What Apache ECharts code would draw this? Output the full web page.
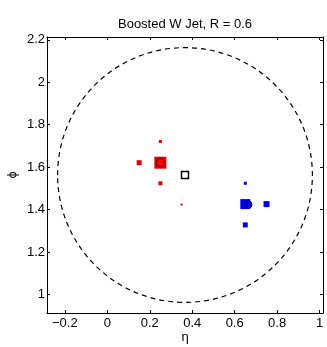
<!DOCTYPE html>
<html>
<head>
<meta charset="utf-8">
<style>
  html, body { margin: 0; padding: 0; background: #ffffff; }
  #chart { width: 327px; height: 347px; }
</style>
<script src="https://cdn.jsdelivr.net/npm/echarts@6/dist/echarts.min.js"></script>
</head>
<body>
<div id="chart"></div>
<script>
// Tick positions
const etaTicks = [-0.2, 0, 0.2, 0.4, 0.6, 0.8, 1];
const phiTicks = [1, 1.2, 1.4, 1.6, 1.8, 2, 2.2];

// Jet axis and cone radius
const jetAxis = [0.366, 1.563];
const jetR = 0.6;

// Subjet 1 (red) constituent cells: eta, phi, relative pT
const redEta = [0.25, 0.15, 0.25, 0.25, 0.35];
const redPhi = [1.621, 1.621, 1.721, 1.524, 1.424];
const redPt  = [60, 25, 15, 20, 10];

// Subjet 2 (blue) constituent cells
const blueEta = [0.65, 0.75, 0.65, 0.65];
const bluePhi = [1.426, 1.426, 1.524, 1.328];
const bluePt  = [50, 30, 15, 25];

// Subjet axes
const redAxis = [0.249, 1.621];
const blueAxis = [0.665, 1.424];

const half = 0.65;
const etaMin = jetAxis[0] - half, etaMax = jetAxis[0] + half;
const phiMin = jetAxis[1] - half, phiMax = jetAxis[1] + half;

const FONT = 'Liberation Sans, Arial, Helvetica, sans-serif';
const fmt = v => (v < 0 ? '\u2212' + String(Math.abs(+v.toFixed(2))) : String(+(+v).toFixed(2)));

function cells(eta, phi, pt) {
  return eta.map((e, i) => [e, phi[i], pt[i]]);
}

const chart = echarts.init(document.getElementById('chart'), null, { renderer: 'canvas' });

const axisLine = { show: true, onZero: false, lineStyle: { color: '#000', width: 1 } };
const tickStyle = (vals) => ({ show: true, inside: true, length: 3, customValues: vals, lineStyle: { color: '#000', width: 1 } });

chart.setOption({
  animation: false,
  backgroundColor: '#ffffff',
  grid: { left: 47, top: 37, width: 276, height: 276, containLabel: false, outerBoundsMode: 'none' },
  xAxis: [
    {
      type: 'value', min: etaMin, max: etaMax, position: 'bottom',
      axisLine: axisLine, axisTick: tickStyle(etaTicks), splitLine: { show: false },
      axisLabel: { customValues: etaTicks, formatter: fmt, color: '#000', fontSize: 13, fontFamily: FONT, margin: 4 }
    },
    {
      type: 'value', min: etaMin, max: etaMax, position: 'top',
      axisLine: axisLine, axisTick: tickStyle(etaTicks), splitLine: { show: false },
      axisLabel: { show: false }
    }
  ],
  yAxis: [
    {
      type: 'value', min: phiMin, max: phiMax, position: 'left',
      axisLine: axisLine, axisTick: tickStyle(phiTicks), splitLine: { show: false },
      axisLabel: { customValues: phiTicks, formatter: fmt, color: '#000', fontSize: 13, fontFamily: FONT, margin: 2 }
    },
    {
      type: 'value', min: phiMin, max: phiMax, position: 'right',
      axisLine: axisLine, axisTick: tickStyle(phiTicks), splitLine: { show: false },
      axisLabel: { show: false }
    }
  ],
  graphic: [
    { type: 'text', x: 185, y: 24, style: { text: 'Boosted W Jet, R = 0.6', fill: '#000', font: '13px ' + FONT, textAlign: 'center', textVerticalAlign: 'middle' } },
    { type: 'text', x: 185, y: 337, style: { text: 'η', fill: '#000', font: '13px ' + FONT, textAlign: 'center', textVerticalAlign: 'middle' } },
    { type: 'text', x: 13, y: 175, rotation: Math.PI / 2, style: { text: 'ϕ', fill: '#000', font: '12px ' + FONT, textAlign: 'center', textVerticalAlign: 'middle' } }
  ],
  series: [
    {
      // jet cone boundary
      type: 'custom', silent: true,
      data: [[jetAxis[0], jetAxis[1], jetR]],
      renderItem: function (params, api) {
        const c = api.coord([api.value(0), api.value(1)]);
        const s = api.size([api.value(2), api.value(2)]);
        return {
          type: 'ellipse',
          shape: { cx: c[0], cy: c[1], rx: s[0], ry: s[1] },
          style: { fill: 'none', stroke: '#000', lineWidth: 1.2, lineDash: [5, 4] }
        };
      }
    },
    {
      type: 'scatter', symbol: 'rect',
      data: cells(redEta, redPhi, redPt),
      symbolSize: v => v[2] / 5,
      itemStyle: { color: '#e80000', opacity: 1 }
    },
    {
      type: 'scatter', symbol: 'rect',
      data: cells(blueEta, bluePhi, bluePt),
      symbolSize: v => v[2] / 5,
      itemStyle: { color: '#0000ee', opacity: 1 }
    },
    {
      type: 'scatter', symbol: 'circle', symbolSize: 8,
      data: [redAxis],
      itemStyle: { color: '#ff0000', borderColor: '#600000', borderWidth: 1, opacity: 1 }
    },
    {
      type: 'scatter', symbol: 'circle', symbolSize: 7,
      data: [blueAxis],
      itemStyle: { color: '#0000dd', borderColor: '#000040', borderWidth: 1, opacity: 1 }
    },
    {
      type: 'scatter', symbol: 'rect', symbolSize: 7,
      data: [jetAxis],
      itemStyle: { color: 'rgba(255,255,255,0)', borderColor: '#000', borderWidth: 1.5, opacity: 1 }
    }
  ]
});
</script>
</body>
</html>
